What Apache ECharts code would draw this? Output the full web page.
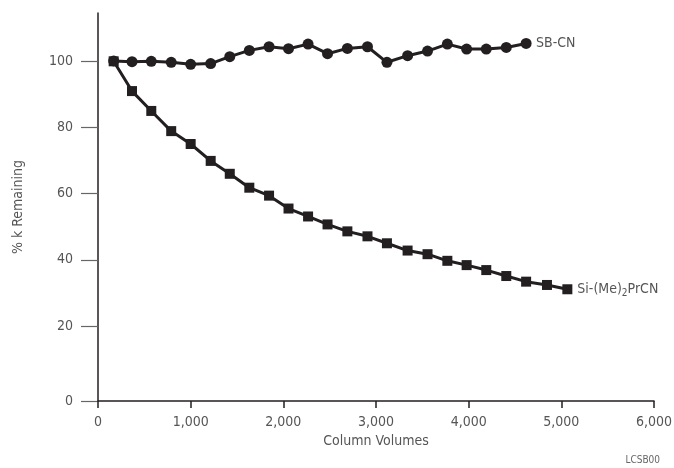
<!DOCTYPE html>
<html>
<head>
<meta charset="utf-8">
<script src="https://cdn.jsdelivr.net/npm/echarts@6/dist/echarts.min.js"></script>
<style>
html,body{margin:0;padding:0;background:#fff;}
#chart{width:674px;height:468px;}
</style>
</head>
<body>
<div id="chart"></div>
<script>
// Column volumes (x) for each measured point
var columnVolumes = [169, 367, 575, 790, 1000, 1216, 1422, 1633, 1846, 2056, 2267, 2477, 2691, 2908, 3118, 3341, 3556, 3770, 3978, 4190, 4406, 4620, 4845, 5065];
// % k remaining, SB-CN (22 points)
var sbcnValues = [100.1, 99.9, 100.0, 99.7, 99.1, 99.3, 101.4, 103.3, 104.4, 103.8, 105.2, 102.3, 103.9, 104.4, 99.7, 101.7, 103.1, 105.2, 103.7, 103.7, 104.2, 105.4];
// % k remaining, Si-(Me)2PrCN (24 points)
var siValues = [100.0, 91.0, 85.0, 78.9, 75.0, 69.9, 66.0, 61.8, 59.4, 55.5, 53.1, 50.7, 48.6, 47.1, 45.0, 42.8, 41.7, 39.7, 38.4, 36.9, 35.1, 33.4, 32.4, 31.1];
// Axis ticks
var xTicks = [0, 1000, 2000, 3000, 4000, 5000, 6000];
var yTicks = [0, 20, 40, 60, 80, 100];

var FONT = '"Liberation Sans Narrow", "DejaVu Sans Condensed", "Roboto", sans-serif';
var INK = '#231f20';
var TXT = '#555555';
var yMin = -2.67, yMax = 114.6;

function pairs(xs, ys) {
  var out = [];
  for (var i = 0; i < ys.length; i++) out.push([xs[i], ys[i]]);
  return out;
}
function commas(v) {
  return String(v).replace(/\B(?=(\d{3})+(?!\d))/g, ',');
}
var yTickPos = yTicks.map(function (t) { return t === 0 ? yMin : t; });

var chart = echarts.init(document.getElementById('chart'), null, {renderer: 'canvas'});
chart.setOption({
  backgroundColor: '#ffffff',
  animation: false,
  grid: {left: 98, right: 20, top: 13, bottom: 67, containLabel: false, outerBoundsMode: 'none'},
  xAxis: {
    type: 'value',
    min: xTicks[0], max: xTicks[xTicks.length - 1], interval: 1000,
    name: 'Column Volumes',
    nameLocation: 'middle',
    nameGap: 27,
    nameTextStyle: {fontFamily: FONT, fontSize: 14, color: TXT},
    axisLine: {show: true, onZero: false, lineStyle: {color: INK, width: 1.5}},
    axisTick: {show: true, length: 7, inside: false, lineStyle: {color: INK, width: 1.5}},
    axisLabel: {fontFamily: FONT, fontSize: 14, color: TXT, margin: 14,
      formatter: function (v) { return commas(v); }},
    splitLine: {show: false}
  },
  yAxis: {
    type: 'value',
    min: yMin, max: yMax,
    name: '% k Remaining',
    nameLocation: 'middle',
    nameGap: 73,
    nameRotate: 90,
    nameTextStyle: {fontFamily: FONT, fontSize: 14, color: TXT},
    axisLine: {show: true, onZero: false, lineStyle: {color: INK, width: 1.5}},
    axisTick: {show: true, length: 17, customValues: yTickPos, lineStyle: {color: '#666666', width: 1.2}},
    axisLabel: {fontFamily: FONT, fontSize: 14, color: TXT, margin: 25, customValues: yTickPos,
      formatter: function (v) { return v <= yMin + 0.01 ? String(yTicks[0]) : String(Math.round(v)); }},
    splitLine: {show: false}
  },
  series: [
    {
      name: 'SB-CN',
      type: 'line',
      data: pairs(columnVolumes, sbcnValues),
      symbol: 'circle',
      symbolSize: 11,
      lineStyle: {color: INK, width: 3},
      itemStyle: {color: INK},
      endLabel: {show: true, formatter: 'SB-CN', distance: 10,
        fontFamily: FONT, fontSize: 14, color: TXT}
    },
    {
      name: 'Si-(Me)2PrCN',
      type: 'line',
      data: pairs(columnVolumes, siValues),
      symbol: 'rect',
      symbolSize: 10,
      lineStyle: {color: INK, width: 3},
      itemStyle: {color: INK},
      endLabel: {show: true, distance: 10,
        formatter: '{a|Si-(Me)}{s|2}{a|PrCN}',
        rich: {
          a: {fontFamily: FONT, fontSize: 14, color: TXT},
          s: {fontFamily: FONT, fontSize: 10, color: TXT, verticalAlign: 'bottom', padding: [9, 0, 0, 0]}
        }}
    }
  ],
  graphic: [{
    type: 'text', right: 14, bottom: 3,
    style: {text: 'LCSB00', fontFamily: FONT, fontSize: 10, fill: '#666666'}
  }]
});
</script>
</body>
</html>
